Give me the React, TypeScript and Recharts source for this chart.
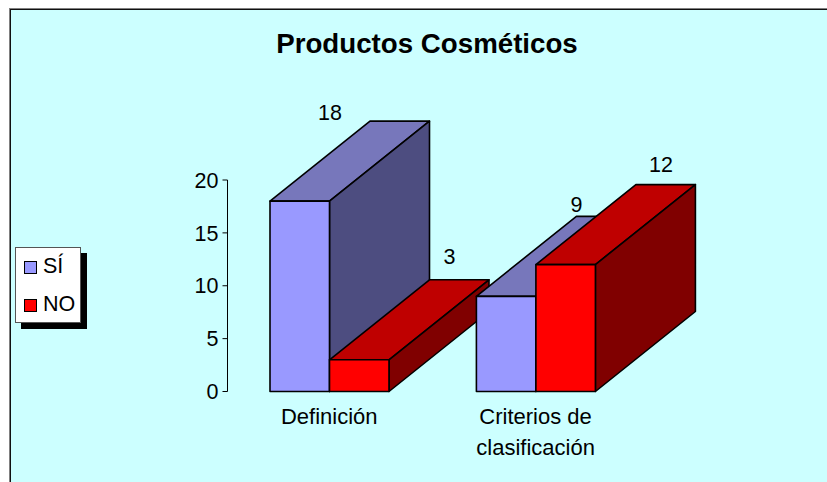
import React from 'react';
import { BarChart, Bar, XAxis, YAxis, Legend, LabelList } from 'recharts';

const categories = ['Definición', 'Criterios de clasificación'];
const siValues = [18, 9];
const noValues = [3, 12];
const yTicks = [0, 5, 10, 15, 20];

const FONT = '"Liberation Sans", Arial, sans-serif';
const DEPTH_X = 100;
const DEPTH_Y = 80;

const SI = { name: 'SÍ', front: '#9999FF', top: '#7777BB', side: '#4D4D80' };
const NO = { name: 'NO', front: '#FF0000', top: '#BF0000', side: '#800000' };

// where Excel left each value label, relative to the back top-left corner of the box
const siLabelShift = [{ dx: -40, dy: -8 }, { dx: 0, dy: -11 }];
const noLabelShift = [{ dx: 20, dy: -23 }, { dx: 25, dy: -20 }];

// each category gets its own pair of series so the boxes paint front to back
const rows = categories.map((category, i) => ({
  category,
  [`si${i}`]: siValues[i],
  [`no${i}`]: noValues[i],
}));

const Box3D = ({ x, y, width, height, colors }: any) => {
  if (!height) return null;
  const r = x + width;
  const b = y + height;
  return (
    <g stroke="#000" strokeWidth={1.6} strokeLinejoin="round">
      <polygon
        points={`${x},${y} ${x + DEPTH_X},${y - DEPTH_Y} ${r + DEPTH_X},${y - DEPTH_Y} ${r},${y}`}
        fill={colors.top}
      />
      <polygon
        points={`${r},${y} ${r + DEPTH_X},${y - DEPTH_Y} ${r + DEPTH_X},${b - DEPTH_Y} ${r},${b}`}
        fill={colors.side}
      />
      <rect x={x} y={y} width={width} height={height} fill={colors.front} />
    </g>
  );
};

const valueLabel = (shift: { dx: number; dy: number }) => (props: any) => {
  const { x, y, value } = props;
  if (value == null) return null;
  return (
    <text
      x={x + DEPTH_X + shift.dx}
      y={y - DEPTH_Y + shift.dy}
      textAnchor="middle"
      dominantBaseline="central"
      fontSize={21.5}
      fontFamily={FONT}
      fill="#000"
    >
      {value}
    </text>
  );
};

const CategoryTick = ({ x, y, payload }: any) => {
  const words: string[] = payload.value.split(' ');
  const lines = words.length > 1 ? [words.slice(0, -1).join(' '), words[words.length - 1]] : words;
  return (
    <text x={x} textAnchor="middle" fontSize={22} fontFamily={FONT} fill="#000">
      {lines.map((line, i) => (
        <tspan key={line} x={x} y={y + 24.5 + i * 31}>
          {line}
        </tspan>
      ))}
    </text>
  );
};

const LegendBox = ({ payload }: any) => {
  const entries = (payload || []).filter((entry: any) => entry.type !== 'none');
  return (
    <div
      style={{
        width: 66,
        height: 76,
        background: '#fff',
        border: '1px solid #555',
        boxShadow: '6px 6px 0 #000',
        boxSizing: 'border-box',
        fontFamily: FONT,
        fontSize: 21.5,
        position: 'relative',
      }}
    >
      {entries.map((entry: any, i: number) => (
        <div key={entry.value} style={{ position: 'absolute', left: 8, top: 6 + i * 38, display: 'flex', alignItems: 'center' }}>
          <span
            style={{
              width: 11,
              height: 11,
              background: entry.color,
              border: '1.4px solid #000',
              marginRight: 6,
              marginTop: 3,
              boxSizing: 'content-box',
              flex: 'none',
            }}
          />
          <span style={{ lineHeight: '24px' }}>{entry.value}</span>
        </div>
      ))}
    </div>
  );
};

export default function App() {
  return (
    <div style={{ position: 'absolute', left: 0, top: 0, width: 827, height: 482, overflow: 'hidden', background: '#fff' }}>
      <div
        style={{
          position: 'absolute',
          left: 10,
          top: 9,
          width: 900,
          height: 600,
          background: '#CCFFFF',
          border: '1px solid #111',
          boxShadow: '-1px -1px 0 #808080',
        }}
      />
      <div
        style={{
          position: 'absolute',
          left: 227,
          top: 26,
          width: 400,
          textAlign: 'center',
          fontFamily: FONT,
          fontWeight: 'bold',
          fontSize: 27.7,
          lineHeight: '36px',
          color: '#000',
        }}
      >
        Productos Cosméticos
      </div>
      <div style={{ position: 'absolute', left: 0, top: 0 }}>
        <BarChart
          width={827}
          height={482}
          data={rows}
          margin={{ top: 180, right: 188, bottom: 0, left: 0 }}
          barSize={59.5}
          barGap={0}
        >
          <XAxis
            dataKey="category"
            axisLine={false}
            tickLine={false}
            height={90.5}
            padding={{ left: -1.5, right: 0.2 }}
            interval={0}
            tick={<CategoryTick />}
          />
          <YAxis
            width={227.5}
            domain={[0, 20]}
            ticks={yTicks}
            stroke="#000"
            tickSize={5}
            tickMargin={4}
            tick={{ fill: '#000', fontSize: 21.5, fontFamily: FONT }}
          />
          <Legend
            layout="vertical"
            verticalAlign="middle"
            align="center"
            itemSorter={null}
            wrapperStyle={{ left: 15, top: 247, width: 66 }}
            content={<LegendBox />}
          />
          {categories.flatMap((_, i) => [
            <Bar
              key={`si${i}`}
              dataKey={`si${i}`}
              stackId="si"
              name={SI.name}
              fill={SI.front}
              legendType={i === 0 ? 'square' : 'none'}
              isAnimationActive={false}
              shape={(p: any) => <Box3D {...p} colors={SI} />}
            >
              <LabelList dataKey={`si${i}`} content={valueLabel(siLabelShift[i])} />
            </Bar>,
            <Bar
              key={`no${i}`}
              dataKey={`no${i}`}
              stackId="no"
              name={NO.name}
              fill={NO.front}
              legendType={i === 0 ? 'square' : 'none'}
              isAnimationActive={false}
              shape={(p: any) => <Box3D {...p} colors={NO} />}
            >
              <LabelList dataKey={`no${i}`} content={valueLabel(noLabelShift[i])} />
            </Bar>,
          ])}
        </BarChart>
      </div>
    </div>
  );
}
